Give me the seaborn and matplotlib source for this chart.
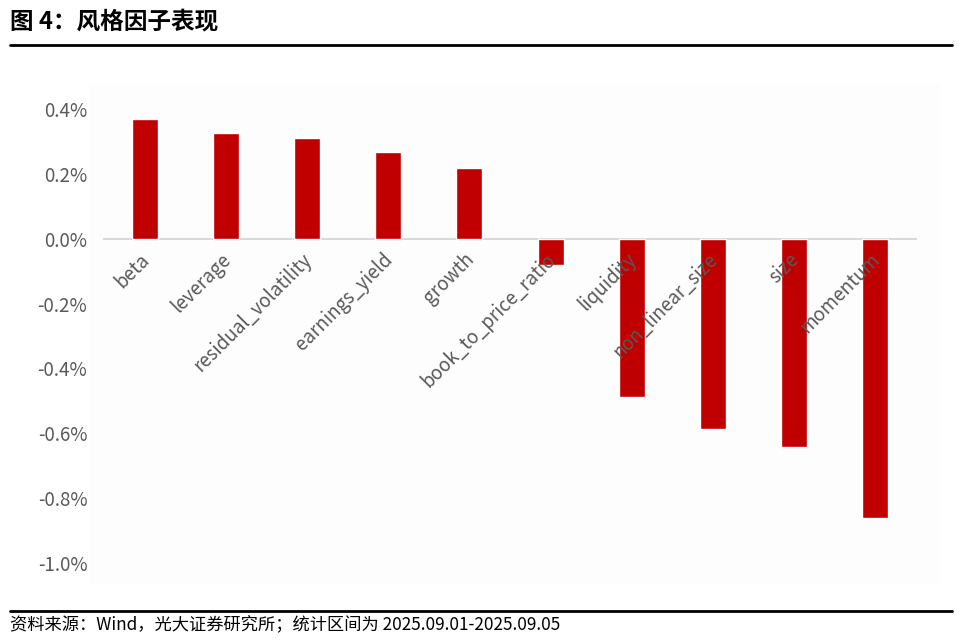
import numpy as np
import pandas as pd
import matplotlib
matplotlib.use("Agg")
import matplotlib.pyplot as plt
import seaborn as sns
from matplotlib.ticker import FuncFormatter

factors = ["beta", "leverage", "residual_volatility", "earnings_yield", "growth",
           "book_to_price_ratio", "liquidity", "non_linear_size", "size", "momentum"]
returns_pct = [0.369, 0.326, 0.312, 0.267, 0.219, -0.080, -0.489, -0.588, -0.642, -0.861]
yticks = [-1.0, -0.8, -0.6, -0.4, -0.2, 0.0, 0.2, 0.4]

title = "图 4：风格因子表现"
source = "资料来源：Wind，光大证券研究所；统计区间为 2025.09.01-2025.09.05"

sns.set_theme(style="white")
plt.rcParams['font.family'] = ['Noto Sans CJK SC', 'DejaVu Sans']
plt.rcParams['axes.unicode_minus'] = False

df = pd.DataFrame({"factor": factors, "ret": returns_pct})

fig = plt.figure(figsize=(9.62, 6.41), dpi=100)
fig.patch.set_facecolor("white")

# faint chart-area background
bg = plt.Rectangle((90 / 962, 1 - 585 / 641), 850 / 962, 500 / 641,
                   transform=fig.transFigure, facecolor="#fdfdfd",
                   edgecolor="none", zorder=-1)
fig.add_artist(bg)

ax = fig.add_axes([104 / 962, 1 - 563 / 641, 812 / 962, 454 / 641])
ax.set_zorder(2)
ax.set_facecolor("none")
sns.barplot(data=df, x="factor", y="ret", color="#c00000", width=0.32,
            saturation=1, ax=ax, zorder=1)
ax.set_axisbelow(False)  # category labels are drawn over the bars

ax.set_ylim(-1.0, 0.4)
ax.set_xlim(-0.5, len(factors) - 0.5)
ax.set_yticks(yticks)
ax.yaxis.set_major_formatter(FuncFormatter(lambda v, p: f"{v:.1f}%"))
ax.set_xlabel("")
ax.set_ylabel("")

# labels sit a little left of the bar centre, like the Excel original
ax.set_xticks(np.arange(len(factors)) - 0.07, labels=factors)

for s in ["top", "right", "left"]:
    ax.spines[s].set_visible(False)
ax.spines["bottom"].set_position(("data", 0))
ax.spines["bottom"].set_color("#d9d9d9")
ax.spines["bottom"].set_linewidth(1.5)
ax.spines["bottom"].set_zorder(0.5)

ax.tick_params(axis="x", length=0, pad=7.5, labelsize=13.5, labelcolor="#595959")
ax.tick_params(axis="y", length=0, pad=12, labelsize=13.5, labelcolor="#595959")
for lab in ax.get_xticklabels():
    lab.set_rotation(45)
    lab.set_ha("right")
    lab.set_va("top")
    lab.set_rotation_mode("anchor")

fig.text(10 / 962, 1 - 21 / 641, title, fontsize=17, fontweight="bold",
         va="center", ha="left", color="black")
fig.add_artist(plt.Line2D([10 / 962, 952 / 962], [1 - 45 / 641, 1 - 45 / 641],
                          color="black", linewidth=2))
fig.add_artist(plt.Line2D([10 / 962, 952 / 962], [1 - 611 / 641, 1 - 611 / 641],
                          color="black", linewidth=2))
fig.text(10 / 962, 1 - 625 / 641, source, fontsize=12.4, va="center", ha="left",
         color="black")

fig.savefig("out.png", dpi=100)
